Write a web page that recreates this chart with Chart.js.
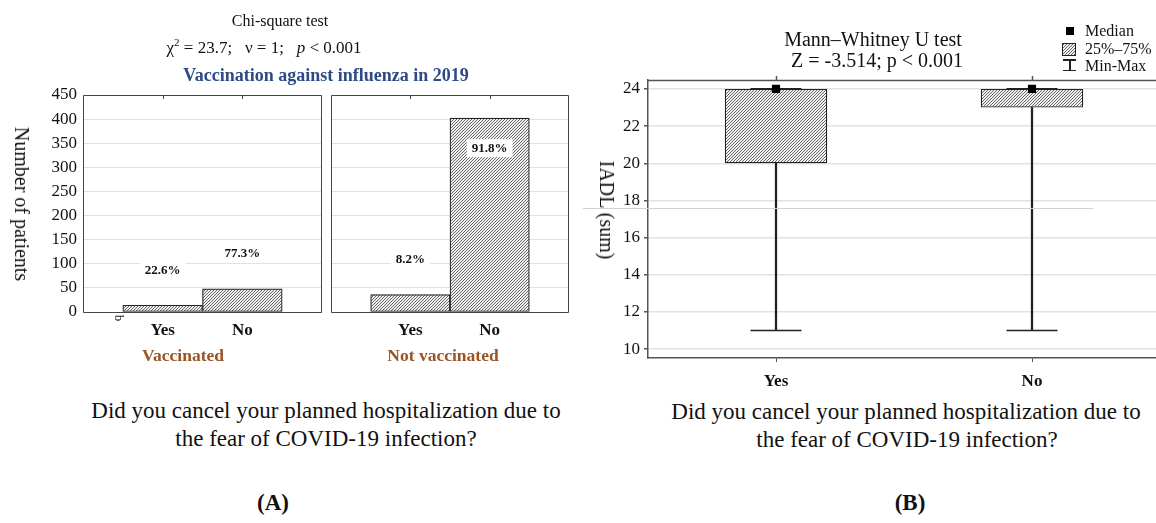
<!DOCTYPE html>
<html>
<head>
<meta charset="utf-8">
<script src="https://cdn.jsdelivr.net/npm/chart.js@4.4.1/dist/chart.umd.min.js"></script>
<style>
  html, body { margin: 0; padding: 0; background: #fff; overflow: hidden; width: 1156px; height: 523px; }
  #page { position: relative; width: 1156px; height: 523px; font-family: "Liberation Serif", "Times New Roman", serif; color: #111; }
  .t { position: absolute; white-space: nowrap; transform: translate(-50%, -50%); line-height: 1; }
  .cv { position: absolute; top: 0; }
  .leg { position: absolute; }
</style>
</head>
<body>
<div id="page">
  <canvas id="vacc" class="cv" width="323" height="342" style="left:0px"></canvas>
  <canvas id="novacc" class="cv" width="249" height="342" style="left:321px"></canvas>
  <canvas id="iadl" class="cv" width="580" height="398" style="left:580px"></canvas>

  <!-- panel A texts -->
  <div class="t" style="left:280px;top:21px;font-size:16px">Chi-square test</div>
  <div class="t" style="left:264px;top:47px;font-size:17px">&chi;<sup style="font-size:11px;vertical-align:7px;line-height:0">2</sup> = 23.7;&nbsp;&nbsp; &nu; = 1;&nbsp;&nbsp; <i>p</i> &lt; 0.001</div>
  <div class="t" style="left:326px;top:75px;font-size:18px;font-weight:bold;color:#2e4a86">Vaccination against influenza in 2019</div>
  <div class="t" style="left:22px;top:204px;font-size:20px;transform:translate(-50%,-50%) rotate(90deg)">Number of patients</div>
  <div class="t" style="left:119px;top:318px;font-size:13px;transform:translate(-50%,-50%) rotate(90deg)">b</div>
  <div class="t" id="g0" style="left:183px;top:356px;font-size:17.5px;font-weight:bold;color:#9a5424"></div>
  <div class="t" id="g1" style="left:443px;top:356px;font-size:17.5px;font-weight:bold;color:#9a5424"></div>
  <div class="t" style="left:326px;top:410px;font-size:23px">Did you cancel your planned hospitalization due to</div>
  <div class="t" style="left:326px;top:438px;font-size:23px">the fear of COVID-19 infection?</div>
  <div class="t" style="left:273px;top:502px;font-size:23px;font-weight:bold">(A)</div>

  <!-- panel B texts -->
  <div class="t" style="left:873px;top:39px;font-size:20px">Mann&ndash;Whitney U test</div>
  <div class="t" style="left:877px;top:60px;font-size:20px">Z = -3.514; p &lt; 0.001</div>
  <div class="t" style="left:607px;top:210px;font-size:20px;transform:translate(-50%,-50%) rotate(90deg)">IADL (sum)</div>
  <div style="position:absolute;left:583px;top:208px;width:510px;height:1px;background:#d2d2d2"></div>
  <div class="t" style="left:906px;top:411px;font-size:23px">Did you cancel your planned hospitalization due to</div>
  <div class="t" style="left:907px;top:439px;font-size:23px">the fear of COVID-19 infection?</div>
  <div class="t" style="left:910px;top:502px;font-size:23px;font-weight:bold">(B)</div>

  <!-- panel B key -->
  <div class="leg" style="left:1066px;top:27px;width:8px;height:8px;background:#000"></div>
  <canvas class="leg" id="swatch" width="14" height="13" style="left:1062px;top:43px"></canvas>
  <div class="leg" style="left:1063px;top:59px;width:13px;height:12px">
    <div style="position:absolute;left:0;top:0;width:13px;height:1.5px;background:#222"></div>
    <div style="position:absolute;left:6px;top:0;width:1.5px;height:12px;background:#222"></div>
    <div style="position:absolute;left:0;top:10.5px;width:13px;height:1.5px;background:#222"></div>
  </div>
  <div class="leg" style="left:1085px;top:23px;font-size:16px;line-height:16px">Median</div>
  <div class="leg" style="left:1085px;top:41px;font-size:16px;line-height:16px">25%&ndash;75%</div>
  <div class="leg" style="left:1085px;top:58px;font-size:16px;line-height:16px">Min-Max</div>
</div>

<script>
// ---- Panel A: patients by cancelled hospitalization and vaccination ----
const answers = ['Yes', 'No'];
const groups = ['Vaccinated', 'Not vaccinated'];
const vaccinatedCounts = [14, 48];
const notVaccinatedCounts = [36, 402];
const vaccinatedPct = ['22.6%', '77.3%'];
const notVaccinatedPct = ['8.2%', '91.8%'];
const countTicks = [0, 50, 100, 150, 200, 250, 300, 350, 400, 450];

// ---- Panel B: IADL score distribution ----
const iadlGroups = ['Yes', 'No'];
const iadlMin = [11, 11];
const iadlQ1 = [20, 23];
const iadlMedian = [24, 24];
const iadlQ3 = [24, 24];
const iadlMax = [24, 24];
const iadlTicks = [10, 12, 14, 16, 18, 20, 22, 24];

const SERIF = '"Liberation Serif", "Times New Roman", serif';
const INK = '#111';
const FRAME = '#444';
const GRID = '#e2e2e2';

document.getElementById('g0').textContent = groups[0];
document.getElementById('g1').textContent = groups[1];

function hatchPattern(ctx) {
  const n = 3;
  const c = document.createElement('canvas');
  c.width = n; c.height = n;
  const g = c.getContext('2d');
  g.fillStyle = '#efefef';
  g.fillRect(0, 0, n, n);
  g.strokeStyle = '#5a5a5a';
  g.lineWidth = 0.9;
  g.beginPath();
  g.moveTo(0, n); g.lineTo(n, 0);
  g.moveTo(-1, 1); g.lineTo(1, -1);
  g.moveTo(n - 1, n + 1); g.lineTo(n + 1, n - 1);
  g.stroke();
  return ctx.createPattern(c, 'repeat');
}

// legend swatch for the interquartile box
(function () {
  const sw = document.getElementById('swatch');
  const g = sw.getContext('2d');
  g.fillStyle = hatchPattern(g);
  g.fillRect(0, 0, sw.width, sw.height);
  g.strokeStyle = '#222';
  g.lineWidth = 1;
  g.strokeRect(0.5, 0.5, sw.width - 1, sw.height - 1);
})();

// closed frame round the plot area plus small tick marks on the top edge
const framePlugin = {
  id: 'frame',
  afterDraw(chart, args, opts) {
    const { ctx, chartArea: a } = chart;
    const xs = chart.scales.x;
    ctx.save();
    ctx.strokeStyle = opts.color || FRAME;
    ctx.lineWidth = opts.width || 1;
    ctx.beginPath();
    if (opts.full) {
      ctx.rect(Math.round(a.left) + 0.5, Math.round(a.top) + 0.5,
               Math.round(a.right - a.left) - 1, Math.round(a.bottom - a.top));
    } else {
      ctx.moveTo(a.left, Math.round(a.top) + 0.5);
      ctx.lineTo(a.right, Math.round(a.top) + 0.5);
    }
    ctx.stroke();
    ctx.beginPath();
    xs.ticks.forEach((t, i) => {
      const lbl = xs.getLabels()[t.value];
      if (!lbl) return;
      const x = Math.round(xs.getPixelForTick(i)) + 0.5;
      if (opts.tickUp) { ctx.moveTo(x, a.top); ctx.lineTo(x, a.top - 4); }
      else { ctx.moveTo(x, a.top); ctx.lineTo(x, a.top + 4); }
    });
    ctx.stroke();
    ctx.restore();
  }
};

// percentage captions above (or inside) each bar, on a white patch
const pctPlugin = {
  id: 'pct',
  afterDatasetsDraw(chart, args, opts) {
    const { ctx, chartArea: a } = chart;
    const meta = chart.getDatasetMeta(0);
    ctx.save();
    ctx.font = 'bold 13px ' + SERIF;
    ctx.textAlign = 'center';
    ctx.textBaseline = 'middle';
    meta.data.forEach((bar, i) => {
      const txt = opts.labels[i];
      if (!txt) return;
      let y = bar.y - 35;
      if (y < a.top + 25) y = bar.y + 30;
      const w = ctx.measureText(txt).width + 10;
      ctx.fillStyle = '#fff';
      ctx.fillRect(bar.x - w / 2, y - 9, w, 18);
      ctx.fillStyle = INK;
      ctx.fillText(txt, bar.x, y);
    });
    ctx.restore();
  }
};

function countChart(id, counts, pct, yLabels, padLeft) {
  const cv = document.getElementById(id);
  const ctx = cv.getContext('2d');
  return new Chart(ctx, {
    type: 'bar',
    data: {
      labels: ['', ...answers, ''],
      datasets: [{
        data: [null, ...counts, null],
        backgroundColor: hatchPattern(ctx),
        borderColor: '#222',
        borderWidth: 1.2,
        borderSkipped: false,
        barPercentage: 1,
        categoryPercentage: 1
      }]
    },
    options: {
      responsive: false,
      animation: false,
      events: [],
      layout: { autoPadding: false, padding: { top: 95, left: padLeft, right: 1, bottom: 0 } },
      plugins: {
        legend: { display: false },
        tooltip: { enabled: false },
        frame: { full: true },
        pct: { labels: [null, ...pct, null] }
      },
      scales: {
        x: {
          type: 'category',
          offset: false,
          grid: { display: false, drawTicks: true, tickLength: 8 },
          border: { display: false },
          ticks: {
            autoSkip: false, maxRotation: 0, padding: 0, color: INK,
            font: { family: SERIF, size: 17, weight: 'bold' }
          },
          afterFit(s) { s.height = 30; }
        },
        y: {
          min: 0, max: 450,
          afterBuildTicks(s) { s.ticks = countTicks.map(v => ({ value: v })); },
          grid: { color: GRID, drawTicks: false },
          border: { display: false },
          ticks: {
            display: yLabels, padding: 6, color: INK,
            font: { family: SERIF, size: 17 }
          },
          afterFit(s) { s.width = yLabels ? 83 : 0; }
        }
      }
    },
    plugins: [framePlugin, pctPlugin]
  });
}

countChart('vacc', vaccinatedCounts, vaccinatedPct, true, 0);
countChart('novacc', notVaccinatedCounts, notVaccinatedPct, false, 10);

// ---- Panel B box plot ----
(function () {
  const ctx = document.getElementById('iadl').getContext('2d');
  const pattern = hatchPattern(ctx);
  const zip = (a, b) => a.map((v, i) => [v, b[i]]);
  new Chart(ctx, {
    data: {
      labels: iadlGroups,
      datasets: [
        { type: 'bar', data: zip(iadlMin, iadlQ1), backgroundColor: '#222', barThickness: 1.6,
          grouped: false, borderWidth: 0, order: 6 },
        { type: 'bar', data: zip(iadlQ3, iadlMax), backgroundColor: '#222', barThickness: 1.6,
          grouped: false, borderWidth: 0, order: 6 },
        { type: 'bar', data: zip(iadlQ1, iadlQ3), backgroundColor: pattern, borderColor: '#222',
          borderWidth: 1.2, borderSkipped: false, grouped: false,
          barPercentage: 0.4, categoryPercentage: 1, order: 5 },
        { type: 'line', data: iadlMin, showLine: false, pointStyle: 'line', pointRadius: 25.5,
          pointBorderWidth: 1.6, pointBorderColor: '#222', order: 3 },
        { type: 'line', data: iadlMax, showLine: false, pointStyle: 'line', pointRadius: 25.5,
          pointBorderWidth: 1.6, pointBorderColor: '#222', order: 3 },
        { type: 'line', data: iadlMedian, showLine: false, pointStyle: 'rect', pointRadius: 5.8,
          pointBackgroundColor: '#000', pointBorderColor: '#000', pointBorderWidth: 0, order: 1 }
      ]
    },
    options: {
      responsive: false,
      animation: false,
      events: [],
      layout: { autoPadding: false, padding: { top: 80, left: 0, right: 0, bottom: 0 } },
      plugins: {
        legend: { display: false },
        tooltip: { enabled: false },
        frame: { full: false, tickUp: true, color: '#555', width: 1.5 }
      },
      scales: {
        x: {
          type: 'category',
          offset: true,
          grid: { offset: false, drawOnChartArea: false, drawTicks: true, tickLength: 4, tickColor: '#555' },
          border: { display: true, color: '#555', width: 1.5 },
          ticks: {
            padding: 9, color: INK,
            font: { family: SERIF, size: 17, weight: 'bold' }
          },
          afterFit(s) { s.height = 40; }
        },
        y: {
          min: 9.52, max: 24.48,
          afterBuildTicks(s) { s.ticks = iadlTicks.map(v => ({ value: v })); },
          grid: { color: GRID, lineWidth: 1.5, drawTicks: true, tickLength: 4, tickColor: '#555' },
          border: { display: true, color: '#555', width: 1.5 },
          ticks: {
            padding: 4, color: INK,
            font: { family: SERIF, size: 17 }
          },
          afterFit(s) { s.width = 68; }
        }
      }
    },
    plugins: [framePlugin]
  });
})();
</script>
</body>
</html>
